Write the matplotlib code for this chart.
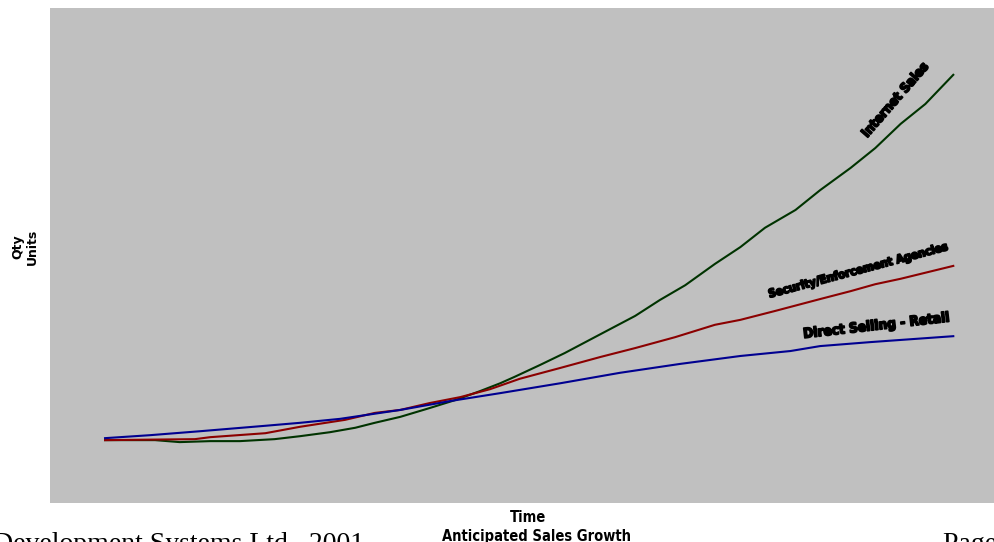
import matplotlib
matplotlib.use("Agg")
import matplotlib.pyplot as plt
import matplotlib.patheffects as pe

# time axis (arbitrary units 0..100) and quantities
internet_t = [0, 5.9, 8.8, 12.4, 15.9, 20.0, 23.0, 26.5, 29.5, 31.8, 34.8, 38.3, 41.3, 44.2, 46.6, 48.3,
              51.3, 54.2, 58.4, 62.5, 65.4, 68.4, 71.9, 74.9, 77.8, 81.4, 84.3, 87.9, 90.8, 93.8, 96.7, 100]
internet_q = [12.7, 12.7, 12.3, 12.5, 12.5, 12.9, 13.5, 14.3, 15.2, 16.2, 17.4, 19.2, 20.8, 22.6, 24.2, 25.5,
              27.9, 30.3, 34.1, 37.8, 41.0, 44.0, 48.3, 51.7, 55.6, 59.2, 63.2, 67.7, 71.7, 76.6, 80.6, 86.5]

security_t = [0, 10.6, 12.4, 18.9, 23.0, 28.3, 31.8, 34.8, 38.3, 41.9, 45.4, 48.9, 53.7, 58.4, 62.5, 67.2,
              71.9, 74.9, 79.0, 84.3, 87.9, 90.8, 93.8, 100]
security_q = [12.7, 12.9, 13.3, 14.1, 15.4, 16.8, 18.2, 18.8, 20.2, 21.4, 23.0, 25.1, 27.3, 29.5, 31.3, 33.5,
              36.0, 37.0, 38.8, 41.2, 42.8, 44.2, 45.3, 47.9]

direct_t = [0, 5.3, 11.2, 18.9, 23.0, 27.7, 34.8, 40.7, 46.6, 53.7, 60.7, 67.8, 74.9, 80.8, 84.3, 90.2, 100]
direct_q = [13.1, 13.7, 14.5, 15.6, 16.2, 17.0, 18.8, 20.6, 22.2, 24.2, 26.3, 28.1, 29.7, 30.7, 31.7, 32.5, 33.7]

cond = dict(family="DejaVu Sans", stretch="condensed", weight="bold")

fig = plt.figure(figsize=(9.94, 5.42), dpi=100)
ax = fig.add_axes([50 / 994, 39 / 542, 944 / 994, 495 / 542])
ax.set_facecolor("#c0c0c0")
for s in ax.spines.values():
    s.set_visible(False)
ax.set_xticks([])
ax.set_yticks([])
ax.set_xlim(-6.49, 104.8)
ax.set_ylim(0, 100)

ax.plot(internet_t, internet_q, color="#003300", lw=1.5)
ax.plot(security_t, security_q, color="#8b0000", lw=1.5)
ax.plot(direct_t, direct_q, color="#000090", lw=1.5)

fx = [pe.withStroke(linewidth=1.2, foreground="black")]
ax.text(93.2, 81.4, "Internet Sales", rotation=49, ha="center", va="center",
        fontsize=9.5, path_effects=fx, **cond)
ax.text(88.8, 47.0, "Security/Enforcement Agencies", rotation=15, ha="center", va="center",
        fontsize=8.4, path_effects=fx, **cond)
ax.text(90.9, 35.8, "Direct Selling - Retail", rotation=6.5, ha="center", va="center",
        fontsize=9.8, path_effects=fx, **cond)

fig.text(25 / 994, 1 - 247 / 542, "Qty\nUnits", rotation=90, ha="center", va="center",
         fontsize=9, weight="bold", family="DejaVu Sans", linespacing=1.1)
fig.text(528 / 994, 1 - 518 / 542, "Time", ha="center", va="center", fontsize=10.5, **cond)
fig.text(537 / 994, 1 - 536 / 542, "Anticipated Sales Growth", ha="center", va="center",
         fontsize=10.5, **cond)

# page footer, cropped by the page edges as in the original
fig.text(364 / 994, -9 / 542, "Development Systems Ltd., 2001", ha="right", va="baseline",
         fontsize=20, family="Liberation Serif")
fig.text(943 / 994, -9 / 542, "Page 1", ha="left", va="baseline",
         fontsize=20, family="Liberation Serif")

fig.savefig("out.png", dpi=100)
